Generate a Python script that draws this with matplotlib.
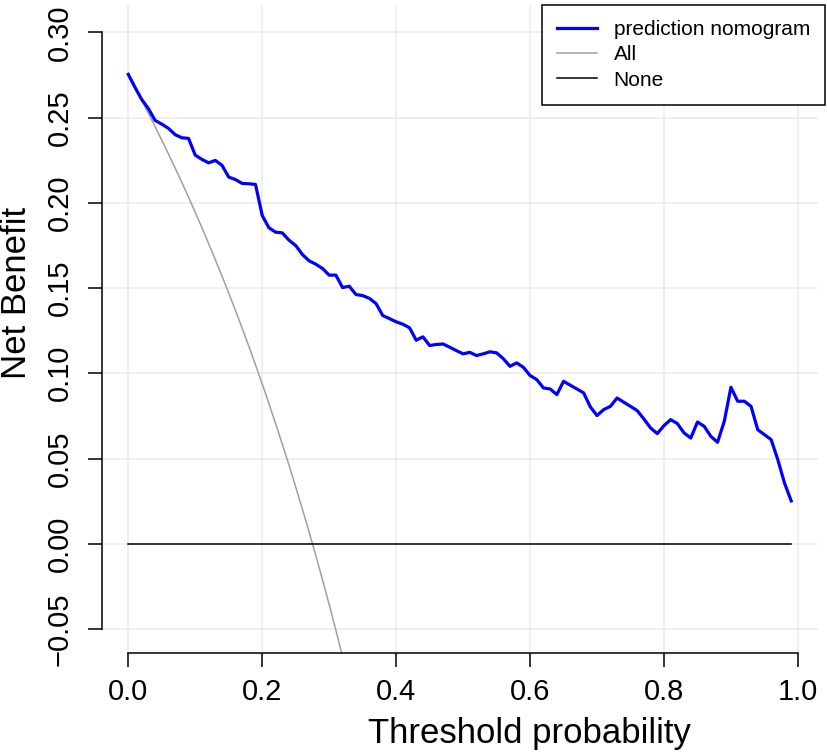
import numpy as np
import matplotlib
matplotlib.use('Agg')
import matplotlib.pyplot as plt
from matplotlib.ticker import FuncFormatter

plt.rcParams['font.family'] = ['Liberation Sans', 'DejaVu Sans']

## decision curve, thresholds 0.00 .. 0.99
thresholds = np.arange(100) / 100
nomogram = [0.2754, 0.2678, 0.2607, 0.2553, 0.2484, 0.2462, 0.2437, 0.2400, 0.2382, 0.2378,
            0.2280, 0.2255, 0.2235, 0.2249, 0.2220, 0.2151, 0.2137, 0.2114, 0.2112, 0.2108,
            0.1926, 0.1854, 0.1828, 0.1824, 0.1781, 0.1750, 0.1697, 0.1660, 0.1640, 0.1615,
            0.1576, 0.1576, 0.1503, 0.1511, 0.1462, 0.1456, 0.1440, 0.1409, 0.1339, 0.1321,
            0.1302, 0.1288, 0.1267, 0.1194, 0.1214, 0.1163, 0.1169, 0.1172, 0.1153, 0.1133,
            0.1114, 0.1123, 0.1104, 0.1114, 0.1126, 0.1120, 0.1086, 0.1041, 0.1061, 0.1035,
            0.0987, 0.0963, 0.0914, 0.0908, 0.0875, 0.0953, 0.0930, 0.0908, 0.0885, 0.0803,
            0.0752, 0.0787, 0.0806, 0.0855, 0.0830, 0.0806, 0.0781, 0.0732, 0.0679, 0.0646,
            0.0693, 0.0728, 0.0705, 0.0650, 0.0620, 0.0714, 0.0689, 0.0630, 0.0595, 0.0718,
            0.0918, 0.0836, 0.0836, 0.0806, 0.0669, 0.0640, 0.0611, 0.0493, 0.0356, 0.0251]
# "All" curve, only the visible part (0.00 .. 0.33)
all_thr = np.arange(34) / 100
treat_all = [0.2750, 0.2677, 0.2602, 0.2526, 0.2448, 0.2368, 0.2287, 0.2204, 0.2120, 0.2033,
             0.1944, 0.1854, 0.1761, 0.1667, 0.1570, 0.1471, 0.1369, 0.1265, 0.1159, 0.1049,
             0.0938, 0.0823, 0.0705, 0.0584, 0.0461, 0.0333, 0.0203, 0.0069, -0.0069, -0.0211,
             -0.0357, -0.0507, -0.0662, -0.0821]
treat_none = np.zeros(100)

xticks = [0.0, 0.2, 0.4, 0.6, 0.8, 1.0]
yticks = [-0.05, 0.0, 0.05, 0.10, 0.15, 0.20, 0.25, 0.30]

fig = plt.figure(figsize=(8.27, 7.56), dpi=100)
ax = fig.add_axes([101.7/827, 1-653.3/756, (817.8-101.7)/827, (653.3-5)/756])

ax.set_xticks(xticks)
ax.set_yticks(yticks)
ax.grid(True, color='#EBEBEB', lw=1.1)
ax.set_axisbelow(True)

ax.plot(thresholds, nomogram, color='#0000FF', lw=2.3, label='prediction nomogram', zorder=3)
ax.plot(all_thr, treat_all, color='#A0A0A0', lw=1.1, label='All', zorder=2)
ax.plot(thresholds, treat_none, color='black', lw=1.1, label='None', zorder=2)

ax.set_xlim(-0.0397, 1.0297)
ax.set_ylim(-0.0643, 0.3161)

for s in ['top', 'right']:
    ax.spines[s].set_visible(False)
ax.spines['left'].set_bounds(-0.05, 0.30)
ax.spines['bottom'].set_bounds(0, 1)
for s in ['left', 'bottom']:
    ax.spines[s].set_linewidth(1.1)

ax.tick_params(direction='out', length=10, width=1.1, labelsize=21)
ax.tick_params(axis='x', pad=8)
ax.tick_params(axis='y', pad=10)
ax.xaxis.set_major_formatter(FuncFormatter(lambda v, p: '%.1f' % v))
ax.yaxis.set_major_formatter(FuncFormatter(lambda v, p: ('%.2f' % v).replace('-', '\u2212')))
for lab in ax.get_yticklabels():
    lab.set_rotation(90)
    lab.set_va('center')

fig.text(529/827, 1-743/756, 'Threshold probability', fontsize=25, ha='center', va='baseline')
fig.text(26/827, 1-293/756, 'Net Benefit', fontsize=25, ha='center', va='baseline',
         rotation=90, rotation_mode='anchor')

leg = ax.legend(loc='upper right', bbox_to_anchor=(825/827, 1-5/756), bbox_transform=fig.transFigure,
                fontsize=15, fancybox=False, edgecolor='black', framealpha=1,
                handlelength=1.9, handletextpad=0.8, borderpad=0.72, labelspacing=0.3,
                borderaxespad=0)
leg.get_frame().set_linewidth(1.1)

fig.savefig('out.png', dpi=100)
